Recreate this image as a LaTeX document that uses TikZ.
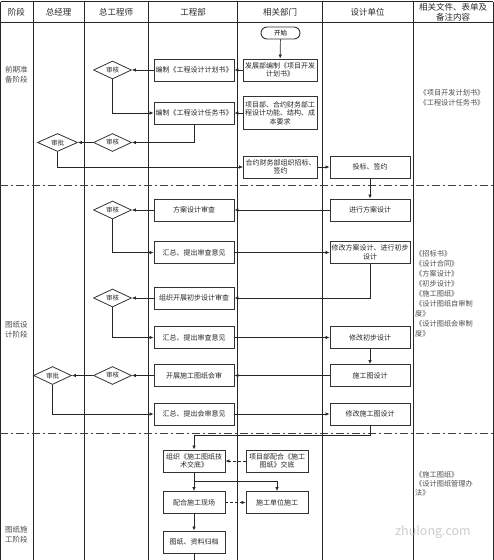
\documentclass[tikz,border=0pt]{standalone}
\usepackage{fontspec}
\setmainfont{Noto Sans CJK SC}
\usetikzlibrary{arrows.meta,shapes.geometric}
\begin{document}
\begin{tikzpicture}[x=1pt,y=-1pt,
  grid/.style={line width=0.9pt, draw=black!85},
  phaseline/.style={line width=0.9pt, draw=black!75, dash pattern=on 8pt off 3pt on 2pt off 3pt},
  head/.style={font=\fontsize{8.5}{10}\selectfont, text=black!85, align=center, inner sep=0pt},
  phase/.style={font=\fontsize{7.5}{10}\selectfont, text=black!70, align=center, inner sep=0pt},
  note/.style={font=\fontsize{7.2}{10}\selectfont, text=black!70, align=left, inner sep=0pt},
  box/.style={draw=black!80, line width=0.9pt, minimum width=80pt, minimum height=22pt, inner sep=1pt, font=\fontsize{7}{8.5}\selectfont, text=black!85, align=center},
  sbox/.style={box, minimum width=62pt},
  dbox/.style={box, minimum width=74pt},
  startbox/.style={draw=black!80, line width=0.9pt, rounded corners=6pt, minimum width=39pt, minimum height=12pt, inner sep=0pt, font=\fontsize{6.5}{7}\selectfont},
  dia/.style={draw=black!80, line width=0.8pt, diamond, aspect=2.2, minimum width=38pt, minimum height=18pt, inner sep=0pt, font=\fontsize{6.5}{7}\selectfont, text=black!85},
  conn/.style={line width=0.7pt, draw=black!85, -{Latex[length=4pt,width=3.5pt]}},
  dconn/.style={conn, dash pattern=on 3pt off 2pt}
]
\useasboundingbox (0,0) rectangle (494,560);
% grid
\draw[grid] (0.5,1.5) -- (493,1.5);
\draw[grid] (0.5,22.5) -- (493,22.5);
\foreach \xx in {0.5,33,84,148.5,237,322,413,493} {\draw[grid] (\xx,1.5) -- (\xx,560);}
\draw[phaseline] (0,185) -- (494,185);
\draw[phaseline] (0,433) -- (494,433);
% headers
\node[head] (h1) at (16.5,12) {阶段};
\node[head] (h2) at (58.5,12) {总经理};
\node[head] (h3) at (116,12) {总工程师};
\node[head] (h4) at (193,12) {工程部};
\node[head] (h5) at (280,12) {相关部门};
\node[head] (h6) at (367.5,12) {设计单位};
\node[head, font=\fontsize{8.5}{9.5}\selectfont] (h7) at (453,12) {相关文件、表单及\\备注内容};
% phase labels
\node[phase] (p1) at (16.5,75) {前期准\\备阶段};
\node[phase] (p2) at (16.5,330) {图纸设\\计阶段};
\node[phase] (p3) at (16.5,535) {图纸施\\工阶段};
% notes
\node[note, align=center] (n1) at (452,98) {《项目开发计划书》\\《工程设计任务书》};
\node[note, anchor=north west] (n2) at (415,250) {《招标书》\\《设计合同》\\《方案设计》\\《初步设计》\\《施工图纸》\\《设计图纸自审制\\度》\\《设计图纸会审制\\度》};
\node[note, anchor=north west, font=\fontsize{7.2}{9}\selectfont] (n3) at (415,471) {《施工图纸》\\《设计图纸管理办\\法》};
\node[font=\fontsize{12.5}{12.5}\selectfont, text=black!20, inner sep=0pt] (wm) at (433,532) {zhulong.com};
% phase 1
\node[startbox] (start) at (280.5,33) {开始};
\node[dbox] (fz) at (280,70) {发展部编制《项目开发\\计划书》};
\node[box] (bz1) at (194,70) {编制《工程设计计划书》};
\node[dia] (sh1) at (112.5,70) {审核};
\node[box] (bz2) at (194,113) {编制《工程设计任务书》};
\node[dbox, minimum height=33pt] (xm) at (280,113) {项目部、合约财务部工\\程设计功能、结构、成\\本要求};
\node[dia] (sh2) at (112.5,142.5) {审核};
\node[dia, minimum width=40pt] (sp1) at (57.5,142.5) {审批};
\node[dbox] (hy) at (280.5,167) {合约财务部组织招标、\\签约};
\node[box] (tb) at (370,167) {投标、签约};
% phase 2
\node[box] (jx) at (370,210) {进行方案设计};
\node[box] (fa) at (194,210) {方案设计审查};
\node[dia] (sh3) at (112.5,210) {审核};
\node[box] (hz1) at (194,252.5) {汇总、提出审查意见};
\node[box] (xg1) at (370,252.5) {修改方案设计、进行初步\\设计};
\node[box] (zz) at (194,298) {组织开展初步设计审查};
\node[dia] (sh4) at (112.5,298) {审核};
\node[box] (hz2) at (194,337.5) {汇总、提出审查意见};
\node[box] (xg2) at (370,337.5) {修改初步设计};
\node[box] (sgt) at (370,375.5) {施工图设计};
\node[box] (kz) at (194,375.5) {开展施工图纸会审};
\node[dia] (sh5) at (112.5,375.5) {审核};
\node[dia] (sp2) at (52.5,375.5) {审批};
\node[box] (hz3) at (194,414) {汇总、提出会审意见};
\node[box] (xg3) at (370,414) {修改施工图设计};
% phase 3
\node[sbox] (zj) at (194,461) {组织《施工图纸技\\术交底》};
\node[sbox] (xp) at (277,461) {项目部配合《施工\\图纸》交底};
\node[sbox] (ph) at (194,502.5) {配合施工现场};
\node[sbox] (sd) at (277,502.5) {施工单位施工};
\node[sbox] (gd) at (194,542) {图纸、资料归档};
% connectors
\draw[conn] (start) -- (fz);
\draw[conn] (fz) -- (bz1);
\draw[conn] (bz1) -- (sh1);
\draw[conn] (sh1.south) |- (bz2.west);
\draw[conn] (xm) -- (bz2);
\draw[conn] (bz2.south) |- (sh2.east);
\draw[conn] (sh2) -- (sp1);
\draw[conn] (sp1.south) |- (hy.west);
\draw[conn] (hy) -- (tb);
\draw[conn] (tb) -- (jx);
\draw[conn] (jx) -- (fa);
\draw[conn] (fa) -- (sh3);
\draw[conn] (sh3.south) |- (hz1.west);
\draw[conn] (hz1) -- (xg1);
\draw[conn] (xg1.south) |- (zz.east);
\draw[conn] (zz) -- (sh4);
\draw[conn] (sh4.south) |- (hz2.west);
\draw[conn] (hz2) -- (xg2);
\draw[conn] (xg2) -- (sgt);
\draw[conn] (sgt) -- (kz);
\draw[conn] (kz) -- (sh5);
\draw[conn] (sh5) -- (sp2);
\draw[conn] (sp2.south) |- (hz3.west);
\draw[conn] (hz3) -- (xg3);
\coordinate (k1) at (370,435.5);
\draw[conn] (xg3.south) -- (k1) -| (zj.north);
\draw[dconn] (xp) -- (zj);
\draw[conn] (zj) -- (ph);
\coordinate (k2) at (194,481.7);
\draw[conn] (k2) -| (sd.north);
\draw[dconn] (ph) -- (sd);
\draw[conn] (ph) -- (gd);
\coordinate (k3) at (194,560);
\draw[line width=0.7pt, draw=black!85] (gd.south) -- (k3);
\end{tikzpicture}
\end{document}
